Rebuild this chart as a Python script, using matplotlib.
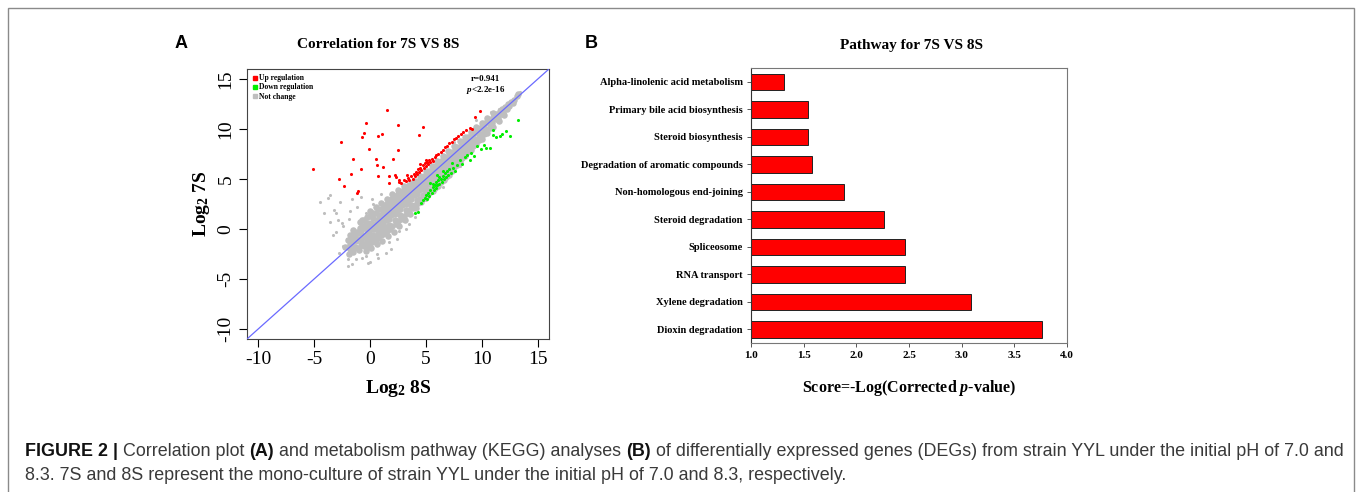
import matplotlib as mpl
mpl.use('Agg')
import matplotlib.pyplot as plt
from matplotlib.lines import Line2D
from matplotlib.patches import Rectangle
from matplotlib.transforms import IdentityTransform

SERIF = 'Liberation Serif'
SANS = 'Liberation Sans'
plt.rcParams['mathtext.fontset'] = 'custom'
plt.rcParams['mathtext.rm'] = 'Liberation Serif:bold'
plt.rcParams['mathtext.bf'] = 'Liberation Serif:bold'
plt.rcParams['mathtext.it'] = 'Liberation Serif:italic:bold'

# ---- panel A data (log2 expression, 8S on x, 7S on y) ----
gray_band = [
    (-2.2, -1.8), (-2.0, -1.1), (-1.9, -2.5), (-1.8, -0.6),
    (-1.6, -1.4), (-1.5, -2.3), (-1.4, -0.5), (-1.5, -0.1), (-1.3, -1.8),
    (-1.1, -1.0), (-1.0, -2.1), (-0.9, 0.1), (-1.0, -0.4), (-0.8, -1.6), (-0.9, 0.7),
    (-0.6, -0.7), (-0.5, -1.7), (-0.4, 0.4), (-0.5, 0.9), (-0.3, -1.2), (-0.6, 0.1), (-0.4, -2.2),
    (-0.1, -0.3), (0.0, -1.4), (0.1, 0.6), (0.0, 1.3), (0.2, -0.8), (-0.1, 0.2), (0.1, -1.9), (0.0, 1.8),
    (0.4, 0.0), (0.5, -1.0), (0.6, 0.9), (0.5, 1.6), (0.7, -0.5), (0.4, 0.5), (0.6, -1.5), (0.5, 2.2),
    (0.9, 0.4), (1.0, -0.6), (1.1, 1.3), (1.0, 2.0), (1.2, -0.1), (0.9, 0.9), (1.1, -1.2), (1.0, 2.6), (1.2, 1.6),
    (1.4, 0.9), (1.5, -0.2), (1.6, 1.8), (1.5, 2.5), (1.7, 0.4), (1.4, 1.4), (1.6, -0.7), (1.5, 3.0), (1.7, 2.1),
    (1.9, 1.4), (2.0, 0.3), (2.1, 2.3), (2.0, 3.0), (2.2, 0.9), (1.9, 1.9), (2.1, -0.3), (2.0, 3.5), (2.2, 2.6),
    (2.4, 1.9), (2.5, 0.8), (2.6, 2.8), (2.5, 3.5), (2.7, 1.4), (2.4, 2.4), (2.6, 0.3), (2.5, 3.9), (2.7, 3.1),
    (2.9, 2.4), (3.0, 1.3), (3.1, 3.3), (3.0, 4.0), (3.2, 1.9), (2.9, 2.9), (3.1, 0.9), (3.0, 4.3), (3.2, 3.6),
    (3.4, 2.9), (3.5, 1.9), (3.6, 3.8), (3.5, 4.4), (3.7, 2.4), (3.4, 3.4), (3.6, 1.5), (3.7, 4.1),
    (3.9, 3.4), (4.0, 2.4), (4.1, 4.3), (4.0, 4.8), (4.2, 2.9), (3.9, 3.9), (4.1, 2.1), (4.2, 4.5),
    (4.4, 3.9), (4.5, 3.0), (4.6, 4.8), (4.5, 5.3), (4.7, 3.4), (4.4, 4.4), (4.6, 2.7), (4.7, 5.0),
    (4.9, 4.4), (5.0, 3.5), (5.1, 5.3), (5.0, 5.8), (5.2, 3.9), (4.9, 4.9), (5.1, 3.3), (5.2, 5.5),
    (5.4, 4.9), (5.5, 4.0), (5.6, 5.8), (5.5, 6.3), (5.7, 4.4), (5.4, 5.4), (5.6, 3.8), (5.7, 6.0),
    (5.9, 5.4), (6.0, 4.6), (6.1, 6.3), (6.0, 6.8), (6.2, 4.9), (5.9, 5.9), (6.1, 4.3), (6.2, 6.5),
    (6.4, 5.9), (6.5, 5.1), (6.6, 6.8), (6.5, 7.3), (6.7, 5.5), (6.4, 6.4), (6.6, 4.9),
    (6.9, 6.4), (7.0, 5.6), (7.1, 7.3), (7.0, 7.8), (7.2, 6.0), (6.9, 6.9), (7.1, 5.4),
    (7.4, 6.9), (7.5, 6.2), (7.6, 7.8), (7.5, 8.3), (7.7, 6.6), (7.4, 7.4),
    (7.9, 7.4), (8.0, 6.7), (8.1, 8.3), (8.0, 8.8), (8.2, 7.1), (7.9, 7.9),
    (8.4, 7.9), (8.5, 7.3), (8.6, 8.8), (8.5, 9.2), (8.7, 7.7), (8.4, 8.4),
    (8.9, 8.4), (9.0, 7.9), (9.1, 9.3), (9.0, 9.7), (9.2, 8.3), (8.9, 8.9),
    (9.4, 9.0), (9.5, 8.5), (9.6, 9.8), (9.5, 10.2), (9.7, 8.9),
    (9.9, 9.5), (10.0, 9.0), (10.1, 10.3), (10.0, 10.6), (10.2, 9.5),
    (10.4, 10.0), (10.5, 9.6), (10.6, 10.8), (10.5, 11.1),
    (10.9, 10.6), (11.0, 10.2), (11.1, 11.3), (11.0, 11.6),
    (11.4, 11.1), (11.5, 10.8), (11.6, 11.8),
    (11.9, 11.7), (12.0, 11.4), (12.1, 12.2),
    (12.4, 12.3), (12.6, 12.7), (12.9, 12.9), (13.1, 13.3),
    (-1.75, -1.5), (-1.7, -0.9), (-1.8, -2.0),
    (-1.25, -1.2), (-1.2, -0.3), (-1.3, -0.8), (-1.2, -1.9),
    (-0.75, -0.9), (-0.7, 0.3), (-0.8, -0.2), (-0.7, -1.4), (-0.75, 0.9),
    (-0.25, -0.5), (-0.2, 0.6), (-0.3, 0.0), (-0.2, -1.0), (-0.25, 1.2), (-0.3, -1.7),
    (0.25, 0.0), (0.3, 1.1), (0.2, 0.4), (0.3, -0.6), (0.25, 1.6), (0.2, -1.3),
    (0.75, 0.5), (0.8, 1.4), (0.7, 0.9), (0.8, -0.1), (0.75, 2.0), (0.7, -0.9),
    (1.25, 1.0), (1.3, 1.9), (1.2, 0.5), (1.3, 0.2), (1.25, 2.4), (1.2, -0.5),
    (1.75, 1.5), (1.8, 2.4), (1.7, 1.0), (1.8, 0.0), (1.75, 2.9),
    (2.25, 2.0), (2.3, 2.9), (2.2, 1.5), (2.3, 0.5), (2.25, 3.3),
    (2.75, 2.5), (2.8, 3.4), (2.7, 2.0), (2.8, 1.0), (2.75, 3.7),
    (3.25, 3.0), (3.3, 3.9), (3.2, 2.5), (3.3, 1.6), (3.25, 4.2),
    (3.75, 3.5), (3.8, 4.3), (3.7, 3.0), (3.8, 2.1), (3.75, 4.6),
    (4.25, 4.0), (4.3, 4.8), (4.2, 3.5), (4.3, 2.6),
    (4.75, 4.5), (4.8, 5.3), (4.7, 4.0), (4.8, 3.1),
    (5.25, 5.0), (5.3, 5.8), (5.2, 4.5), (5.3, 3.6),
    (5.75, 5.5), (5.8, 6.3), (5.7, 5.0), (5.8, 4.1),
    (6.25, 6.0), (6.3, 6.8), (6.2, 5.5), (6.3, 4.7),
    (6.75, 6.5), (6.8, 7.2), (6.7, 6.0), (6.8, 5.2),
    (7.25, 7.0), (7.3, 7.7), (7.2, 6.5), (7.3, 5.8),
    (7.75, 7.5), (7.8, 8.2), (7.7, 7.0), (7.8, 6.4),
    (8.25, 8.0), (8.3, 8.7), (8.2, 7.5),
    (8.75, 8.5), (8.8, 9.2), (8.7, 8.0),
    (9.25, 9.0), (9.3, 9.6), (9.2, 8.5),
    (9.75, 9.5), (9.8, 10.1), (9.7, 9.1),
    (10.25, 10.0), (10.3, 10.6), (10.2, 9.6),
    (10.75, 10.5), (10.8, 11.0), (10.7, 10.1),
    (11.25, 11.0), (11.3, 11.5), (11.75, 11.5), (11.8, 12.0),
    (12.25, 12.0), (12.3, 12.5), (12.75, 12.6), (13.25, 13.5),
]
gray_sparse = [
    (-4.5, 2.7), (-4.1, 1.6), (-3.6, 3.4), (-3.6, 0.7), (-3.2, 1.9), (-3.0, -0.3),
    (-2.7, 2.7), (-2.5, 0.6), (-1.9, 1.0), (-1.6, 3.0), (-2.1, -1.0), (-2.0, -3.0),
    (-1.6, -3.5), (-1.0, -2.2), (-0.4, -2.7), (0.6, -2.5), (0.0, -3.3), (1.7, -1.3),
    (2.6, -0.2), (-3.8, 3.1), (-3.0, 1.6), (-2.4, 0.3), (-2.4, -1.7), (-2.0, -3.7),
    (-1.25, -3.0), (-0.2, -3.35), (0.7, -2.85), (1.4, -2.35), (3.2, 0.0), (-0.35, 1.6),
    (-1.2, 2.2), (-0.8, 3.2), (0.2, 3.0), (1.0, 3.5), (3.5, 0.5), (4.0, 1.2),
    (2.4, -1.0), (13.4, 13.75), (12.8, 12.9), (12.2, 12.3), (11.5, 12.0), (10.8, 11.7),
    (9.5, 10.9), (7.5, 8.7), (8.0, 6.3), (6.5, 4.2), (-3.3, -0.6), (-2.8, -2.4),
    (1.9, -2.0), (5.0, 2.9), (-1.8, 1.8), (-2.9, 0.9), (0.3, 2.5), (-0.7, -2.9),
]
up_pts = [
    (-5.1, 6.0), (-2.6, 8.7), (-2.75, 5.0), (-2.3, 4.3), (-1.7, 5.5), (-1.55, 7.0),
    (-0.8, 6.05), (-1.15, 3.6), (-1.1, 3.8), (-0.7, 9.2), (-0.57, 9.6), (-0.36, 10.6),
    (-0.12, 8.0), (0.54, 7.0), (0.6, 6.4), (0.7, 5.3), (0.7, 9.3), (1.07, 9.5),
    (1.13, 6.2), (1.52, 11.9), (1.67, 4.6), (1.7, 5.3), (2.03, 7.0), (2.2, 5.4),
    (2.48, 10.4), (2.5, 7.9), (2.57, 4.7), (4.36, 9.4), (4.72, 10.2), (9.34, 11.2),
    (9.8, 11.8), (2.3, 5.2), (2.6, 4.9), (2.8, 4.6), (3.0, 4.9), (3.2, 4.8),
    (3.4, 5.1), (3.5, 4.9), (3.7, 5.3), (3.8, 5.0), (3.9, 5.5), (4.0, 5.3),
    (4.1, 5.7), (4.2, 5.5), (4.3, 6.0), (4.4, 5.7), (4.5, 6.1), (4.6, 5.9),
    (4.7, 6.4), (4.8, 6.1), (4.9, 6.6), (5.0, 6.3), (5.1, 6.7), (5.2, 6.5),
    (5.3, 6.9), (5.4, 6.7), (5.5, 7.0), (5.6, 6.8), (5.8, 7.2), (5.9, 7.4),
    (6.1, 7.5), (6.3, 7.7), (6.5, 7.9), (6.7, 8.2), (6.9, 8.3), (7.1, 8.6),
    (7.3, 8.7), (7.5, 9.0), (7.7, 9.1), (7.9, 9.3), (8.1, 9.5), (8.3, 9.7),
    (8.6, 9.9), (8.9, 10.1), (9.1, 10.0), (4.5, 6.5), (5.0, 6.9), (3.3, 5.4),
]
down_pts = [
    (4.0, 1.6), (4.3, 1.7), (4.6, 2.6), (4.7, 2.9), (4.9, 3.1), (5.0, 3.4),
    (5.1, 3.0), (5.2, 3.6), (5.3, 3.3), (5.4, 3.9), (5.5, 3.6), (5.6, 4.2),
    (5.6, 4.5), (5.7, 3.9), (5.8, 4.4), (5.9, 4.1), (5.9, 4.7), (6.0, 4.4),
    (6.1, 4.9), (6.2, 4.5), (6.3, 5.0), (6.4, 4.7), (6.5, 5.3), (6.6, 5.0),
    (6.7, 5.6), (6.8, 5.2), (6.9, 5.8), (7.0, 5.4), (7.1, 6.0), (7.2, 5.6),
    (7.4, 6.1), (7.6, 5.8), (7.8, 6.4), (8.0, 6.9), (8.2, 6.5), (8.5, 7.2),
    (8.7, 7.4), (8.9, 6.9), (9.0, 7.6), (9.3, 7.3), (9.6, 8.3), (9.9, 8.0),
    (10.2, 8.4), (10.4, 8.1), (10.7, 8.1), (11.0, 9.9), (11.0, 9.4), (11.3, 9.2),
    (11.6, 9.3), (11.8, 9.5), (12.2, 9.8), (12.5, 9.3), (13.2, 10.9), (6.0, 5.4),
    (5.4, 4.6), (7.3, 6.6), (6.5, 5.8), (6.2, 5.2),
]
ticks_a = [-10, -5, 0, 5, 10, 15]

# ---- panel B data ----
pathways = ['Alpha-linolenic acid metabolism', 'Primary bile acid biosynthesis',
            'Steroid biosynthesis', 'Degradation of aromatic compounds',
            'Non-homologous end-joining', 'Steroid degradation', 'Spliceosome',
            'RNA transport', 'Xylene degradation', 'Dioxin degradation']
scores = [1.31, 1.54, 1.54, 1.58, 1.88, 2.26, 2.46, 2.46, 3.09, 3.76]
ticks_b = [1.0, 1.5, 2.0, 2.5, 3.0, 3.5, 4.0]

W, H = 1357, 492
fig = plt.figure(figsize=(W / 100, H / 100), dpi=100)

# outer frame
fig.patches.append(Rectangle((8 / W, -0.1), (1354 - 8) / W, 1.1 - 8 / H,
                             transform=fig.transFigure, fill=False,
                             edgecolor='#8a8a8a', linewidth=1.0))

# ---------------- panel A ----------------
ax = fig.add_axes([247 / W, 1 - 339 / H, 302 / W, 270 / H])
gx, gy = zip(*gray_band)
ax.scatter(gx, gy, s=22, color='#bebebe', linewidths=0, zorder=1)
sx, sy = zip(*gray_sparse)
ax.scatter(sx, sy, s=5, color='#bebebe', linewidths=0, zorder=1)
ux, uy = zip(*up_pts)
ax.scatter(ux, uy, s=5, color='#ff0000', linewidths=0, zorder=2)
dx, dy = zip(*down_pts)
ax.scatter(dx, dy, s=5, color='#00ee00', linewidths=0, zorder=2)
ax.axline((0, 0), slope=1, color='#6a6aff', linewidth=0.9, zorder=3)
ax.set_xlim(-11, 16)
ax.set_ylim(-11, 16)
ax.set_xticks(ticks_a)
ax.set_yticks(ticks_a)
ax.set_xticklabels(ticks_a, fontfamily=SERIF, fontsize=14)
ax.set_yticklabels(ticks_a, fontfamily=SERIF, fontsize=14, rotation=90, va='center')
ax.tick_params(direction='out', length=6, width=0.8, pad=3)
for sp in ax.spines.values():
    sp.set_linewidth(0.8)
    sp.set_color('#444444')
ax.set_xlabel('Log$_{2}$ 8S', fontfamily=SERIF, fontweight='bold', fontsize=14, labelpad=7)
ax.set_ylabel('Log$_{2}$ 7S', fontfamily=SERIF, fontweight='bold', fontsize=14, labelpad=4)
handles = [Line2D([], [], marker='s', linestyle='', color=c, markersize=3.5, label=l)
           for c, l in [('#ff0000', 'Up regulation'), ('#00ee00', 'Down regulation'),
                        ('#bebebe', 'Not change')]]
ax.legend(handles=handles, loc='upper left', frameon=False, handlelength=0.6,
          handletextpad=0.3, labelspacing=0.15, borderaxespad=0.3,
          prop={'family': SERIF, 'weight': 'bold', 'size': 5.5})
ax.text(0.79, 0.963, 'r=0.941', transform=ax.transAxes, ha='center', va='center',
        fontfamily=SERIF, fontweight='bold', fontsize=6.5)
ax.text(0.79, 0.922, '$\\mathit{p}$<2.2e-16', transform=ax.transAxes, ha='center', va='center',
        fontfamily=SERIF, fontweight='bold', fontsize=6.5)

# ---------------- panel B ----------------
bx = fig.add_axes([751 / W, 1 - 343 / H, 316 / W, 275 / H])
bx.barh(pathways, scores, height=0.6, color='#ff0000', edgecolor='#222222', linewidth=0.7)
bx.set_xlim(1.0, 4.0)
bx.set_ylim(9.5, -0.5)
bx.set_xticks(ticks_b)
bx.set_xticklabels(['%.1f' % t for t in ticks_b], fontfamily=SERIF, fontweight='bold', fontsize=8)
bx.set_yticks(range(len(pathways)))
bx.set_yticklabels(pathways, fontfamily=SERIF, fontweight='bold', fontsize=7.5)
bx.tick_params(direction='out', length=3, width=0.7, color='#555555', pad=3)
for sp in bx.spines.values():
    sp.set_linewidth(0.8)
    sp.set_color('#777777')
bx.spines['left'].set_color('#333333')
bx.set_xlabel('Score=-Log(Corrected $\\mathit{p}$-value)', fontfamily=SERIF,
              fontweight='bold', fontsize=11.5, labelpad=13)

# titles and panel letters
fig.text(378 / W, 1 - 45 / H, 'Correlation for 7S VS 8S', ha='center', va='center',
         fontfamily=SERIF, fontweight='bold', fontsize=11)
fig.text(912 / W, 1 - 45 / H, 'Pathway for 7S VS 8S', ha='center', va='center',
         fontfamily=SERIF, fontweight='bold', fontsize=11)
fig.text(181 / W, 1 - 43 / H, 'A', ha='center', va='center', fontfamily=SANS,
         fontweight='bold', fontsize=13)
fig.text(591 / W, 1 - 43 / H, 'B', ha='center', va='center', fontfamily=SANS,
         fontweight='bold', fontsize=13)

# caption with bold runs
line1 = [('FIGURE 2 | ', 'bold'), ('Correlation plot ', 'normal'), ('(A)', 'bold'),
         (' and metabolism pathway (KEGG) analyses ', 'normal'), ('(B)', 'bold'),
         (' of differentially expressed genes (DEGs) from strain YYL under the initial pH of 7.0 and',
          'normal')]
line2 = [('8.3. 7S and 8S represent the mono-culture of strain YYL under the initial pH of 7.0 '
          'and 8.3, respectively.', 'normal')]
renderer = fig.canvas.get_renderer()


def draw_runs(runs, x, y):
    for s, w in runs:
        t = fig.text(x, y, s, transform=IdentityTransform(), ha='left', va='center',
                     fontfamily=SANS, fontweight=w, fontsize=12.9,
                     color='#111111' if w == 'bold' else '#3a3a3a')
        x = t.get_window_extent(renderer=renderer).x1


draw_runs(line1, 25, H - 452)
draw_runs(line2, 25, H - 475)

fig.savefig('out.png', dpi=100)
